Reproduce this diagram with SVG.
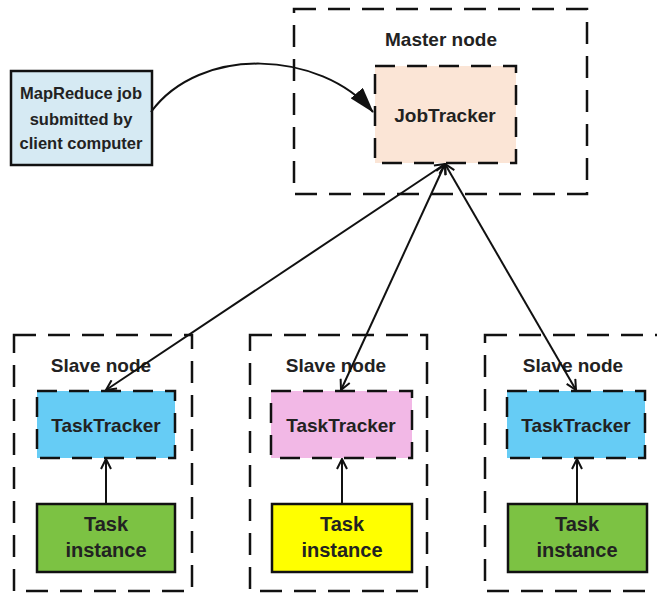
<svg xmlns="http://www.w3.org/2000/svg" width="657" height="596" viewBox="0 0 657 596">
<style>
text{font-family:"Liberation Sans",Arial,sans-serif;font-weight:bold;font-size:19px;fill:#222;text-anchor:middle}
.client{font-size:16.5px}
.task{font-size:20px}
.group{fill:none;stroke:#111;stroke-width:2.5;stroke-dasharray:22 12}
.tracker{stroke:#111;stroke-width:2.5;stroke-dasharray:20 12}
.solid{stroke:#111;stroke-width:2.5}
.conn{fill:none;stroke:#111;stroke-width:2}
</style>
<defs>
<marker id="open" viewBox="0 0 12 12" refX="11" refY="6" markerWidth="12" markerHeight="12" markerUnits="userSpaceOnUse" orient="auto-start-reverse">
<path d="M1,1 L11,6 L1,11" fill="none" stroke="#111" stroke-width="2"/>
</marker>
<marker id="filled" viewBox="0 0 26 16" refX="25" refY="8" markerWidth="26" markerHeight="16" markerUnits="userSpaceOnUse" orient="auto">
<path d="M0,0 L26,8 L0,16 Z" fill="#111"/>
</marker>
</defs>
<g id="master">
<rect class="group" x="294" y="9" width="293" height="185"/>
<text x="441" y="46">Master node</text>
</g>
<g id="jobtracker">
<rect class="tracker" x="375" y="66" width="141" height="97" fill="#fbe5d6"/>
<text x="445" y="122">JobTracker</text>
</g>
<g id="client">
<rect class="solid" x="11" y="71" width="141" height="94" fill="#d6eaf3"/>
<text class="client" x="81" y="99">MapReduce job</text>
<text class="client" x="81" y="125">submitted by</text>
<text class="client" x="81" y="149">client computer</text>
</g>
<g id="slave1">
<rect class="group" x="14" y="335" width="178" height="256"/>
<text x="101" y="372">Slave node</text>
</g>
<g id="slave2">
<rect class="group" x="250" y="335" width="177" height="256"/>
<text x="336" y="372">Slave node</text>
</g>
<g id="slave3">
<rect class="group" x="485" y="335" width="190" height="256"/>
<text x="573" y="372">Slave node</text>
</g>
<g id="tt1">
<rect class="tracker" x="37" y="391" width="138" height="67" fill="#66ccf5"/>
<text x="106" y="432">TaskTracker</text>
</g>
<g id="tt2">
<rect class="tracker" x="271" y="391" width="141" height="67" fill="#f2b8e6"/>
<text x="341" y="432">TaskTracker</text>
</g>
<g id="tt3">
<rect class="tracker" x="507" y="391" width="138" height="67" fill="#66ccf5"/>
<text x="576" y="432">TaskTracker</text>
</g>
<g id="task1">
<rect class="solid" x="37" y="504" width="138" height="68" fill="#7cc243"/>
<text class="task" x="106" y="531">Task</text>
<text class="task" x="106" y="557">instance</text>
</g>
<g id="task2">
<rect class="solid" x="272" y="504" width="140" height="68" fill="#ffff00"/>
<text class="task" x="342" y="531">Task</text>
<text class="task" x="342" y="557">instance</text>
</g>
<g id="task3">
<rect class="solid" x="508" y="504" width="139" height="68" fill="#7cc243"/>
<text class="task" x="577" y="531">Task</text>
<text class="task" x="577" y="557">instance</text>
</g>
<g id="connectors">
<path class="conn" stroke-width="3" d="M151,112 C200,45 320,50 373,112" marker-end="url(#filled)"/>
<line class="conn" x1="445" y1="164" x2="106" y2="390" marker-start="url(#open)" marker-end="url(#open)"/>
<line class="conn" x1="445" y1="164" x2="341" y2="390" marker-start="url(#open)" marker-end="url(#open)"/>
<line class="conn" x1="445" y1="164" x2="576" y2="390" marker-start="url(#open)" marker-end="url(#open)"/>
<line class="conn" x1="106" y1="503" x2="106" y2="459" marker-end="url(#open)"/>
<line class="conn" x1="342" y1="503" x2="342" y2="459" marker-end="url(#open)"/>
<line class="conn" x1="577" y1="503" x2="577" y2="459" marker-end="url(#open)"/>
</g>
</svg>
